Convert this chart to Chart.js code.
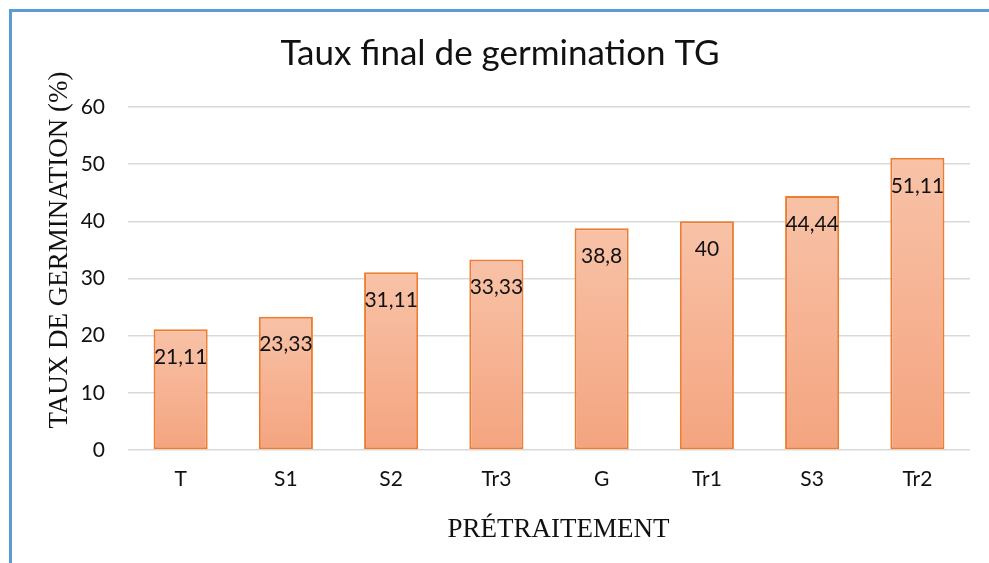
<!DOCTYPE html>
<html>
<head>
<meta charset="utf-8">
<script src="https://cdn.jsdelivr.net/npm/chart.js@4"></script>
<style>
  html, body { margin: 0; padding: 0; background: #fff; }
  #wrap { width: 989px; height: 563px; }
</style>
</head>
<body>
<div id="wrap"><canvas id="myChart" width="989" height="563"></canvas></div>
<script>
const categories = ['T', 'S1', 'S2', 'Tr3', 'G', 'Tr1', 'S3', 'Tr2'];
const tauxGermination = [21.11, 23.33, 31.11, 33.33, 38.8, 40, 44.44, 51.11];
const yTicks = [0, 10, 20, 30, 40, 50, 60];
const xTitle = 'PRÉTRAITEMENT';
const yTitle = 'TAUX DE GERMINATION (%)';

// blue frame round the chart, like the Excel object border
const framePlugin = {
    id: 'frame',
    beforeDraw(chart) {
        const ctx = chart.ctx;
        ctx.save();
        ctx.fillStyle = '#fff';
        ctx.fillRect(0, 0, chart.width, chart.height);
        ctx.strokeStyle = '#5B9BD5';
        ctx.lineWidth = 3;
        ctx.strokeRect(10.5, 10.5, 1100, 1100);
        ctx.restore();
    }
};

// axis titles, placed where Excel puts them (centred on the whole chart, not the plot)
const axisTitles = {
    id: 'axisTitles',
    afterDraw(chart) {
        const ctx = chart.ctx;
        ctx.save();
        ctx.font = '27px "Liberation Serif"';
        ctx.fillStyle = '#111';
        ctx.textAlign = 'center';
        ctx.textBaseline = 'alphabetic';
        ctx.fillText(xTitle, 558.5, 537);
        ctx.translate(67, 250);
        ctx.rotate(-Math.PI / 2);
        ctx.fillText(yTitle, 0, 0);
        ctx.restore();
    }
};

// value labels inside the top of each bar
const valueLabels = {
    id: 'valueLabels',
    afterDatasetsDraw(chart) {
        const ctx = chart.ctx;
        const meta = chart.getDatasetMeta(0);
        ctx.save();
        ctx.font = '21px Lato';
        ctx.fillStyle = '#111';
        ctx.textAlign = 'center';
        ctx.textBaseline = 'middle';
        meta.data.forEach((bar, i) => {
            const txt = String(tauxGermination[i]).replace('.', ',');
            ctx.fillText(txt, bar.x, bar.y + 28);
        });
        ctx.restore();
    }
};

function barGradient(context) {
    const chart = context.chart;
    const y = chart.scales.y;
    if (!chart.chartArea || !y || context.dataIndex === undefined) return '#F6B393';
    const top = y.getPixelForValue(tauxGermination[context.dataIndex]);
    const base = y.getPixelForValue(0);
    const g = chart.ctx.createLinearGradient(0, top, 0, base);
    g.addColorStop(0, '#F8C2A7');
    g.addColorStop(1, '#F4A47F');
    return g;
}

let myChart = document.getElementById('myChart').getContext('2d');

let barChart = new Chart(myChart, {
    type: 'bar',
    data: {
        labels: categories,
        datasets: [{
            label: 'TG',
            data: tauxGermination,
            backgroundColor: barGradient,
            borderColor: '#ED7D31',
            borderWidth: 2,
            borderSkipped: false,
            barPercentage: 0.514,
            categoryPercentage: 1
        }]
    },
    options: {
        responsive: false,
        animation: false,
        layout: { padding: { left: 30, right: 19, top: 0, bottom: 19 } },
        plugins: {
            legend: { display: false },
            tooltip: { enabled: false },
            title: {
                display: true,
                text: 'Taux final de germination TG',
                color: '#111',
                font: { family: 'Lato', size: 35, weight: 'normal' },
                padding: { top: 33, bottom: 32 }
            }
        },
        scales: {
            x: {
                afterFit(scale) { scale.height = 94; },
                grid: { display: false },
                border: { display: false },
                ticks: {
                    color: '#111',
                    font: { family: 'Lato', size: 21 },
                    padding: 9
                }
            },
            y: {
                min: 0,
                max: 60,
                afterFit(scale) { scale.width = 98; },
                afterBuildTicks(scale) { scale.ticks = yTicks.map(v => ({ value: v })); },
                grid: { color: '#D9D9D9', lineWidth: 1.5, drawTicks: false },
                border: { display: false },
                ticks: {
                    color: '#111',
                    font: { family: 'Lato', size: 21 },
                    padding: 23
                }
            }
        }
    },
    plugins: [framePlugin, valueLabels, axisTitles]
});
</script>
</body>
</html>
